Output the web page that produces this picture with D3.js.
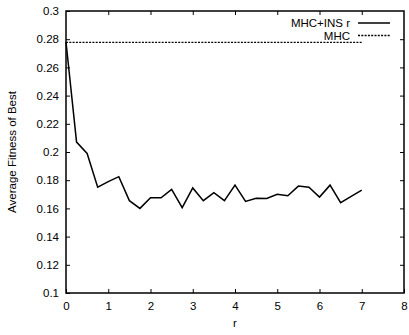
<!DOCTYPE html>
<html>
<head>
<meta charset="UTF-8">
<title>Average Fitness of Best</title>
<style>
  body { margin: 0; background: #fff; }
  svg { display: block; font-family: "Liberation Sans", Arial, sans-serif; }
</style>
<script src="https://d3js.org/d3.v7.min.js"></script>
</head>
<body>
<svg id="chart" width="409" height="335"></svg>
<script>
// data
const rValues = [0, 0.25, 0.5, 0.75, 1, 1.25, 1.5, 1.75, 2, 2.25, 2.5, 2.75, 3, 3.25, 3.5,
                 3.75, 4, 4.25, 4.5, 4.75, 5, 5.25, 5.5, 5.75, 6, 6.25, 6.5, 6.75, 7];
const mhcInsValues = [0.278, 0.207, 0.199, 0.175, 0.179, 0.1825, 0.1655, 0.160, 0.1675, 0.1675, 0.1735,
                      0.1605, 0.1745, 0.1655, 0.1712, 0.1655, 0.1765, 0.165, 0.1672, 0.167, 0.170,
                      0.169, 0.1758, 0.175, 0.168, 0.1765, 0.164, 0.1685, 0.173];
const mhcValue = 0.2778;
const mhcRange = [0, 7];
const xTicks = [0, 1, 2, 3, 4, 5, 6, 7, 8];
const yTicks = [0.1, 0.12, 0.14, 0.16, 0.18, 0.2, 0.22, 0.24, 0.26, 0.28, 0.3];
const seriesNames = ["MHC+INS r", "MHC"];

const svg = d3.select("#chart");
const plotLeft = 66, plotRight = 404, plotTop = 11, plotBottom = 293;

const x = d3.scaleLinear().domain([0, 8]).range([plotLeft, plotRight]);
const y = d3.scaleLinear().domain([0.1, 0.3]).range([plotBottom, plotTop]);

const tickLen = 4;

// axes with inside ticks
const xAxis = svg.append("g").attr("transform", `translate(0,${plotBottom})`)
  .call(d3.axisBottom(x).tickValues(xTicks).tickFormat(d3.format("d")).tickSizeInner(-tickLen).tickSizeOuter(0).tickPadding(9));
const yAxis = svg.append("g").attr("transform", `translate(${plotLeft},0)`)
  .call(d3.axisLeft(y).tickValues(yTicks).tickFormat(d => String(+d.toFixed(2))).tickSizeInner(-tickLen).tickSizeOuter(0).tickPadding(7));
const xTop = svg.append("g").attr("transform", `translate(0,${plotTop})`)
  .call(d3.axisTop(x).tickValues(xTicks.slice(1, -1)).tickFormat("").tickSizeInner(-tickLen).tickSizeOuter(0));
const yRight = svg.append("g").attr("transform", `translate(${plotRight},0)`)
  .call(d3.axisRight(y).tickValues(yTicks.slice(1, -1)).tickFormat("").tickSizeInner(-tickLen).tickSizeOuter(0));

[xAxis, yAxis, xTop, yRight].forEach(g => {
  g.select(".domain").remove();
  g.selectAll(".tick line").attr("stroke", "#000").attr("stroke-width", 1);
  g.selectAll(".tick text").attr("fill", "#000").attr("font-size", "11.5px")
    .attr("font-family", "Liberation Sans, Arial, sans-serif");
});

// frame
svg.append("rect")
  .attr("x", plotLeft).attr("y", plotTop)
  .attr("width", plotRight - plotLeft).attr("height", plotBottom - plotTop)
  .attr("fill", "none").attr("stroke", "#000").attr("stroke-width", 1.5);

// MHC baseline (dashed)
svg.append("line")
  .attr("x1", x(mhcRange[0])).attr("x2", x(mhcRange[1]))
  .attr("y1", y(mhcValue)).attr("y2", y(mhcValue))
  .attr("stroke", "#000").attr("stroke-width", 1.3).attr("stroke-dasharray", "2,1.3");

// MHC+INS r line
const line = d3.line().x((d, i) => x(rValues[i])).y(d => y(d));
svg.append("path")
  .datum(mhcInsValues)
  .attr("d", line)
  .attr("fill", "none").attr("stroke", "#000").attr("stroke-width", 1.5)
  .attr("stroke-linejoin", "miter");

// legend
const legend = svg.append("g");
seriesNames.forEach((name, i) => {
  const ly = 23 + i * 12.5;
  legend.append("text")
    .attr("x", 350).attr("y", ly + 4)
    .attr("text-anchor", "end").attr("font-size", "11.5px")
    .text(name);
  legend.append("line")
    .attr("x1", 358).attr("x2", 390).attr("y1", ly).attr("y2", ly)
    .attr("stroke", "#000").attr("stroke-width", i === 0 ? 1.5 : 1.3)
    .attr("stroke-dasharray", i === 0 ? null : "2,1.3");
});

// axis titles
svg.append("text")
  .attr("x", (plotLeft + plotRight) / 2).attr("y", 327)
  .attr("text-anchor", "middle").attr("font-size", "11.5px")
  .text("r");
svg.append("text")
  .attr("transform", `translate(16,${(plotTop + plotBottom) / 2}) rotate(-90)`)
  .attr("text-anchor", "middle").attr("font-size", "11.5px")
  .text("Average Fitness of Best");
</script>
</body>
</html>
